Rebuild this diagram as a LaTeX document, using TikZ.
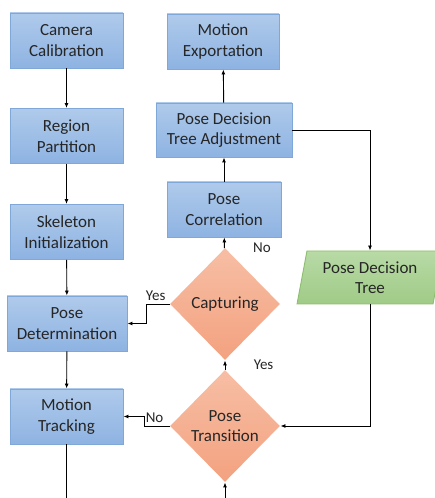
\documentclass[tikz,border=0pt]{standalone}
\usepackage{fontspec}
\setmainfont{Carlito}
\usetikzlibrary{shapes.geometric,arrows.meta}
\definecolor{boxtop}{HTML}{AFCAEB}
\definecolor{boxbot}{HTML}{8EB3E2}
\definecolor{boxline}{HTML}{7FA7D8}
\definecolor{dtop}{HTML}{F7BEA5}
\definecolor{dbot}{HTML}{F3A27F}
\definecolor{gtop}{HTML}{B8DAA6}
\definecolor{gbot}{HTML}{A0CB87}
\definecolor{gline}{HTML}{8DBE70}
\tikzset{
  stepbox/.style={rectangle,draw=boxline,top color=boxtop,bottom color=boxbot,
    minimum width=113pt,minimum height=55pt,inner sep=0pt,align=center},
  decide/.style={diamond,top color=dtop,bottom color=dbot,
    minimum width=110pt,minimum height=112pt,inner sep=0pt,align=center},
  treebox/.style={trapezium,trapezium left angle=77,trapezium right angle=103,
    trapezium stretches=true,draw=gline,top color=gtop,bottom color=gbot,
    minimum width=146pt,minimum height=53pt,inner sep=0pt,align=center},
  lbl/.style={font=\fontsize{15}{18}\selectfont,text=black!85}
}
\begin{document}
\begin{tikzpicture}[x=1pt,y=1pt,->,>={Latex[length=5pt,width=4pt]},line width=0.9pt,
  every node/.style={font=\fontsize{17}{20.5}\selectfont,text=black!85}]
\useasboundingbox (0,0) rectangle (435,498);
\node[stepbox](cam) at (66.5,457.5) {Camera\\Calibration};
\node[stepbox](reg) at (66.5,362) {Region\\Partition};
\node[stepbox](skel) at (66.5,266) {Skeleton\\Initialization};
\node[stepbox,minimum width=120pt](det) at (67,174.5) {Pose\\Determination};
\node[stepbox](track) at (66.5,81.5) {Motion\\Tracking};
\node[stepbox,minimum width=112pt](export) at (223,456.5) {Motion\\Exportation};
\node[stepbox,minimum width=136pt,minimum height=54pt](adj) at (224,368) {Pose Decision\\Tree Adjustment};
\node[stepbox,minimum width=114pt](corr) at (224,288.5) {Pose\\Correlation};
\node[decide](capt) at (225,194) {Capturing};
\node[decide](trans) at (225,72) {Pose\\Transition};
\node[treebox](tree) at (370,220.5) {Pose Decision\\Tree};
\coordinate (trackend) at (66.5,0);
\coordinate (transin) at (225,0);

\path (cam) edge (reg) (reg) edge (skel) (skel) edge (det) (det) edge (track);
\draw[-] (track) -- (trackend);
\draw (transin) -- (trans);
\draw (trans) -- node[lbl,right=25pt] {Yes} (capt);
\draw (capt) -- node[lbl,pos=0,right=25pt] {No} (corr);
\path (corr) edge (adj) (adj) edge (export);
\draw (adj.east) -| (tree.north);
\draw (tree.south) |- (trans.east);
\draw (capt.west) -- node[lbl,above,pos=0.6] {Yes} ++(-23,0) |- (det.east);
\draw (trans.west) -- node[lbl,above,pos=0.6] {No} ++(-25,0) |- (track.east);
\end{tikzpicture}
\end{document}
